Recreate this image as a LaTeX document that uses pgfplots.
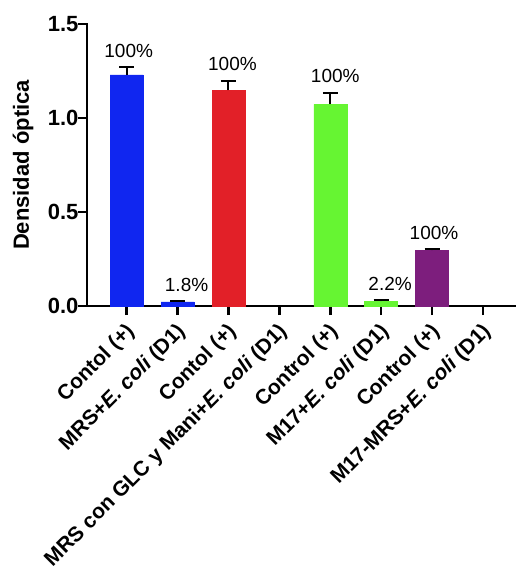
\documentclass[border=0pt]{standalone}
\usepackage{pgfplots}
\pgfplotsset{compat=1.18}
\usepackage{fontspec}
\setmainfont{Liberation Sans}

\definecolor{cBlue}{RGB}{16,38,240}
\definecolor{cRed}{RGB}{226,32,40}
\definecolor{cGreen}{RGB}{102,245,50}
\definecolor{cPurple}{RGB}{125,30,125}

\begin{document}
\begin{tikzpicture}
\useasboundingbox (-87pt,-268pt) rectangle (429pt,306pt);
\begin{axis}[
  scale only axis,
  width=429pt, height=282pt,
  xmin=-0.78, xmax=7.65,
  ymin=0, ymax=1.5,
  axis x line*=bottom,
  axis y line*=left,
  axis line style={line width=2.5pt, line cap=rect},
  every tick/.style={black, line width=2.5pt},
  tick align=outside,
  major tick length=9pt,
  ytick={0,0.5,1.0,1.5},
  /pgf/number format/fixed,
  /pgf/number format/fixed zerofill,
  /pgf/number format/precision=1,
  /pgf/number format/assume math mode=true,
  yticklabel style={font=\fontsize{22}{26}\selectfont\bfseries, xshift=4pt},
  xtick={0,...,7},
  xticklabels={
    Contol (+),
    MRS+\textit{E. coli} (D1),
    Contol (+),
    MRS con GLC y Mani+\textit{E. coli} (D1),
    Control (+),
    M17+\textit{E. coli} (D1),
    Control (+),
    M17-MRS+\textit{E. coli} (D1)},
  xticklabel style={font=\fontsize{21}{25}\selectfont\bfseries,
    xshift=7pt, yshift=-11pt, rotate=45, anchor=east},
  ylabel={Densidad óptica},
  every axis y label/.style={at={(rel axis cs:0,0.5)}, xshift=-64pt, rotate=90,
    anchor=center, font=\fontsize{22}{26}\selectfont\bfseries},
  ybar, bar width=33pt, bar shift=0pt,
  error bars/y dir=plus, error bars/y explicit,
  error bars/error mark options={rotate=90, mark size=7.5pt, line width=2pt, black},
  error bars/error bar style={line width=2pt, black},
  clip=false,
]
\addplot[fill=cBlue, draw=cBlue] coordinates {(0,1.229) +- (0,0.041) (1,0.022) +- (0,0.004)};
\addplot[fill=cRed, draw=cRed] coordinates {(2,1.147) +- (0,0.050)};
\addplot[fill=cGreen, draw=cGreen] coordinates {(4,1.073) +- (0,0.062) (5,0.024) +- (0,0.006)};
\addplot[fill=cPurple, draw=cPurple] coordinates {(6,0.296) +- (0,0.007)};

\begin{scope}[every node/.style={font=\fontsize{19}{22}\selectfont, anchor=base, inner sep=0pt, yshift=10pt}]
\node[xshift=2pt] at (axis cs:0,1.270) {100\%};
\node[xshift=9pt] at (axis cs:1,0.026) {1.8\%};
\node[xshift=4pt] at (axis cs:2,1.197) {100\%};
\node[xshift=5pt] at (axis cs:4,1.135) {100\%};
\node[xshift=9pt] at (axis cs:5,0.030) {2.2\%};
\node[xshift=2pt] at (axis cs:6,0.303) {100\%};
\end{scope}
\end{axis}
\end{tikzpicture}
\end{document}
